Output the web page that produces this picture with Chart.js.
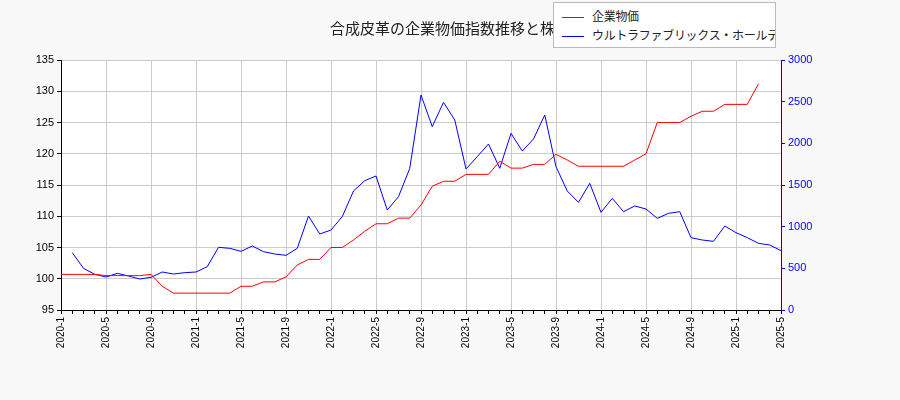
<!DOCTYPE html>
<html><head><meta charset="utf-8">
<script src="https://cdn.jsdelivr.net/npm/chart.js@4/dist/chart.umd.min.js"></script>
<style>
body{margin:0;background:#f8f8f8;font-family:"Noto Sans CJK JP","DejaVu Sans",sans-serif;}
#wrap{position:relative;width:900px;height:400px;}
#title{position:absolute;top:17px;left:0;width:900px;text-align:center;font-size:15px;color:#222;}
#legend{position:absolute;left:553px;top:2px;width:221px;height:44px;border:1px solid #bbb;background:#fff;font-size:12px;color:#222;overflow:hidden;}
#legend div{position:absolute;left:8px;height:18px;line-height:18px;white-space:nowrap;letter-spacing:-0.3px;}
#legend span{display:inline-block;width:22px;height:0;border-top:1.5px solid;vertical-align:middle;margin-right:8px;}
</style></head>
<body><div id="wrap">
<div id="title">合成皮革の企業物価指数推移と株価</div>
<canvas id="c" width="900" height="400"></canvas>
<div id="legend"><div style="top:4px"><span style="border-color:#f00"></span>企業物価</div><div style="top:23px"><span style="border-color:#00f"></span>ウルトラファブリックス・ホールディングス(4235)</div></div>
</div>
<script>
// 2020-1 .. 2025-5
const months = [];
for (let y = 2020; y <= 2025; y++) for (let m = 1; m <= 12; m++) if (y < 2025 || m <= 5) months.push(y + '-' + m);

const priceIndex = [100.7,100.7,100.7,100.7,100.5,100.5,100.5,100.5,100.7,98.8,97.7,97.7,97.7,97.7,97.7,97.7,
  98.8,98.8,99.5,99.5,100.3,102.2,103.1,103.1,105,105,106.2,107.6,108.8,108.8,109.7,109.7,
  111.8,114.8,115.6,115.6,116.7,116.7,116.7,118.8,117.7,117.7,118.3,118.3,119.9,119,118,118,
  118,118,118,119,120,125,125,125,126,126.8,126.8,127.9,127.9,127.9,131.2,null,null];
const stockPrice = [null,688,500,428,396,440,408,372,392,456,432,448,456,520,752,740,
  704,768,700,672,656,740,1128,912,960,1120,1428,1552,1608,1200,1360,1700,
  2580,2200,2492,2280,1692,1840,1992,1700,2120,1908,2052,2340,1720,1428,1292,1520,
  1172,1340,1180,1248,1212,1100,1160,1180,868,840,824,1008,928,868,800,780,712];
const leftTicks = [95,100,105,110,115,120,125,130,135];

const gridCol = ctx => (ctx.index % 4 === 0 ? '#ccc' : 'rgba(0,0,0,0)');
new Chart(document.getElementById('c'), {
  type: 'line',
  data: { labels: months, datasets: [
    { data: priceIndex, borderColor: '#f00', borderWidth: 1, pointRadius: 0, yAxisID: 'y', tension: 0 },
    { data: stockPrice, borderColor: '#00f', borderWidth: 1, pointRadius: 0, yAxisID: 'y1', tension: 0 }
  ]},
  options: {
    responsive: false, animation: false,
    layout: { padding: { left: 0, right: 0, top: 60, bottom: 0 } },
    plugins: { legend: { display: false }, tooltip: { enabled: false } },
    scales: {
      x: { offset: false, afterFit: s => { s.height = 90; },
        grid: { color: gridCol, drawTicks: true, tickColor: '#000', tickLength: 4 },
        border: { color: '#000' },
        ticks: { autoSkip: false, maxRotation: 90, minRotation: 90, color: '#000', font: { size: 10 },
          callback: (v, i) => (i % 4 === 0 ? months[i] : '') } },
      y: { position: 'left', min: 95, max: 135, afterFit: s => { s.width = 61; },
        afterBuildTicks: s => { s.ticks = leftTicks.map(v => ({ value: v })); },
        grid: { color: '#ccc', tickColor: '#000', tickLength: 4 }, border: { color: '#000' },
        ticks: { color: '#000', font: { size: 11 } } },
      y1: { position: 'right', min: 0, max: 3000, afterFit: s => { s.width = 119; },
        grid: { drawOnChartArea: false, tickColor: '#00f', tickLength: 4 }, border: { color: '#00f' },
        ticks: { stepSize: 500, color: '#00f', font: { size: 11 }, callback: v => String(v) } }
    }
  },
  plugins: [{ id: 'bg', beforeDraw: ch => { const a = ch.chartArea, c = ch.ctx; c.save(); c.fillStyle = '#fff'; c.fillRect(a.left, a.top, a.right - a.left, a.bottom - a.top); c.restore(); } }]
});
</script>
</body></html>
